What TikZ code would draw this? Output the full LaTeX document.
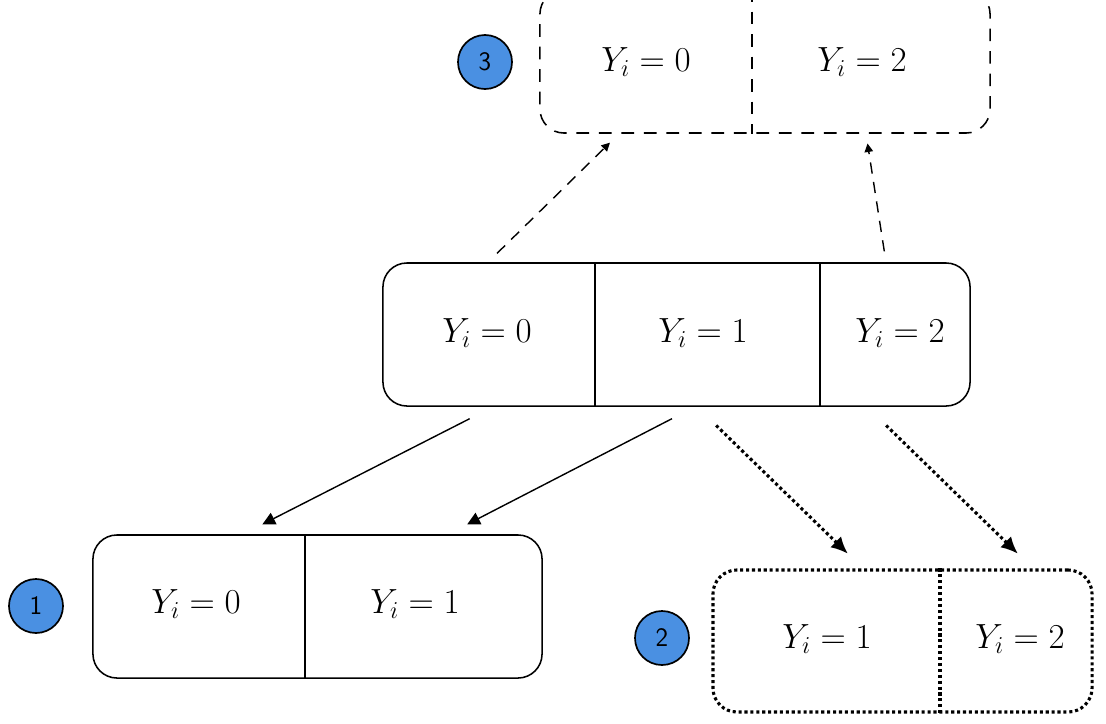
\documentclass[tikz,border=0pt]{standalone}
\usepackage{amsmath}
\usepackage{xcolor}
\usepackage{tikz}
\usetikzlibrary{calc,arrows.meta}
\definecolor{badgeblue}{RGB}{74,144,226}
\newcommand{\cellfont}{\fontsize{25}{30}\selectfont}
\newcommand{\badgefont}{\sffamily\fontsize{19}{22}\selectfont}
\newcommand{\drawDivider}[2]{% node, x
  \draw[#1 border] (#1.north -| #2,0) -- (#1.south -| #2,0);
}

\begin{document}
\begin{tikzpicture}[x=0.025cm,y=-0.025cm,line width=1.3pt,
  box/.style={rounded corners=0.6cm,minimum height=3.575cm,inner sep=0pt},
  cell/.style={font=\cellfont,inner sep=0pt},
  badge/.style={circle,draw,line width=1.2pt,fill=badgeblue,minimum size=1.35cm,
    inner sep=0pt,font=\badgefont},
  top border/.style={dash pattern=on 9pt off 7pt,line width=1.1pt},
  mid border/.style={line width=1.1pt},
  left border/.style={line width=1.1pt},
  right border/.style={dotted,line width=2.2pt},
  solidarrow/.style={-{Triangle[length=9pt,width=9pt]},line width=1pt},
  dotarrow/.style={dotted,line width=2.2pt,-{Latex[length=12pt,width=11pt]}},
  dasharrow/.style={dash pattern=on 8pt off 6pt,line width=1pt,-{Triangle[length=6pt,width=6pt]}}]
% Page frame
\useasboundingbox (0,0) rectangle (1106,724);

% Top box
\node[box,draw,top border,minimum width=11.25cm] (top) at (765,61.5) {};
\drawDivider{top}{752}
\node[cell] (t0) at (646,62) {$Y_i = 0$};
\node[cell] (t2) at (862,62) {$Y_i = 2$};
\node[badge] (b3) at (485,62) {3};

% Middle box
\node[box,draw,mid border,minimum width=14.675cm] (mid) at (676.5,334.5) {};
\drawDivider{mid}{595}
\drawDivider{mid}{820}
\node[cell] (m0) at (487,333) {$Y_i = 0$};
\node[cell] (m1) at (703,333) {$Y_i = 1$};
\node[cell] (m2) at (900,333) {$Y_i = 2$};

% Bottom left box
\node[box,draw,left border,minimum width=11.225cm] (left) at (317.5,606.5) {};
\drawDivider{left}{305}
\node[cell] (l0) at (196,604) {$Y_i = 0$};
\node[cell] (l1) at (415,604) {$Y_i = 1$};
\node[badge] (b1) at (36,606) {1};

% Bottom right box
\node[box,draw,right border,minimum width=9.475cm,minimum height=3.55cm] (right) at (902.5,641) {};
\drawDivider{right}{940}
\node[cell] (r1) at (827,639) {$Y_i = 1$};
\node[cell] (r2) at (1020,639) {$Y_i = 2$};
\node[badge] (b2) at (662,638) {2};

% Solid arrows
\draw[solidarrow,shorten <=18.6pt,shorten >=15.5pt] (mid.south -| 493,0) -- (left.north -| 243,0);
\draw[solidarrow,shorten <=18.4pt,shorten >=15.4pt] (mid.south -| 695,0) -- (left.north -| 448,0);

% Dotted arrows
\draw[dotarrow,shorten <=19pt,shorten >=15pt] (mid.south -| 697,0) -- (right.north -| 863,0);
\draw[dotarrow,shorten <=19pt,shorten >=15pt] (mid.south -| 867,0) -- (right.north -| 1033,0);

% Dashed arrows
\draw[dasharrow,shorten <=9pt,shorten >=9pt] (mid.north -| 488,0) -- (top.south -| 619,0);
\draw[dasharrow,shorten <=7.8pt,shorten >=7pt] (mid.north -| 886,0) -- (top.south -| 866,0);

\end{tikzpicture}
\end{document}
